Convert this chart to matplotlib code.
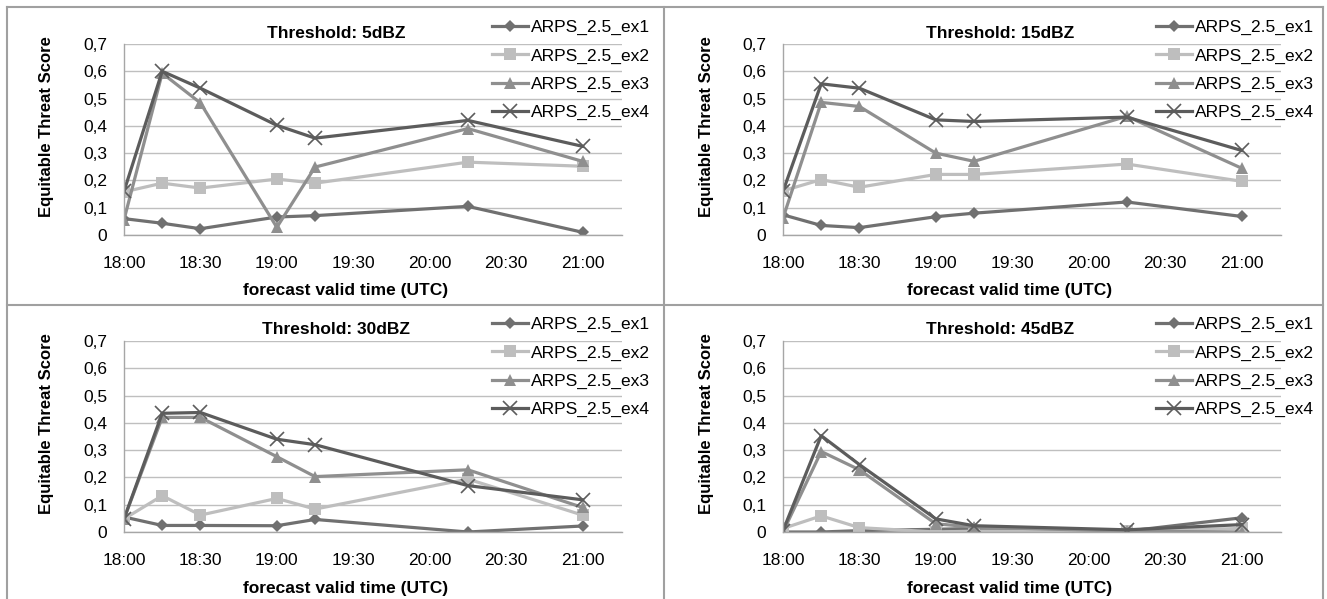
import matplotlib
matplotlib.use("Agg")
import matplotlib.pyplot as plt
from matplotlib.lines import Line2D

plt.rcParams['font.family'] = ['Liberation Sans', 'DejaVu Sans']

# forecast valid times (minutes after 18:00 UTC)
minutes = [0, 15, 30, 60, 75, 135, 180]
tick_minutes = [0, 30, 60, 90, 120, 150, 180]
tick_labels = ['18:00', '18:30', '19:00', '19:30', '20:00', '20:30', '21:00']

experiments = ['ARPS_2.5_ex1', 'ARPS_2.5_ex2', 'ARPS_2.5_ex3', 'ARPS_2.5_ex4']
thresholds = ['5dBZ', '15dBZ', '30dBZ', '45dBZ']

# equitable threat scores, one row per experiment
ets_5 = [
    [0.060, 0.043, 0.023, 0.066, 0.071, 0.105, 0.010],
    [0.158, 0.190, 0.172, 0.205, 0.190, 0.267, 0.252],
    [0.056, 0.593, 0.484, 0.028, 0.249, 0.390, 0.270],
    [0.160, 0.600, 0.538, 0.402, 0.355, 0.420, 0.325],
]
ets_15 = [
    [0.074, 0.035, 0.027, 0.067, 0.080, 0.121, 0.068],
    [0.162, 0.203, 0.175, 0.222, 0.222, 0.260, 0.197],
    [0.062, 0.486, 0.471, 0.300, 0.270, 0.435, 0.245],
    [0.160, 0.554, 0.538, 0.422, 0.416, 0.432, 0.310],
]
ets_30 = [
    [0.055, 0.024, 0.024, 0.023, 0.046, 0.000, 0.022],
    [0.048, 0.133, 0.062, 0.123, 0.084, 0.194, 0.062],
    [0.048, 0.420, 0.420, 0.276, 0.203, 0.228, 0.090],
    [0.048, 0.435, 0.438, 0.340, 0.320, 0.170, 0.118],
]
ets_45 = [
    [0.000, 0.000, 0.005, 0.010, 0.013, 0.003, 0.052],
    [0.013, 0.059, 0.016, 0.000, 0.003, 0.003, 0.013],
    [0.000, 0.295, 0.228, 0.030, 0.018, 0.003, 0.000],
    [0.005, 0.353, 0.247, 0.048, 0.023, 0.008, 0.027],
]
all_scores = [ets_5, ets_15, ets_30, ets_45]

colors = ['#707070', '#bebebe', '#8f8f8f', '#5c5c5c']
markers = ['D', 's', '^', 'x']
msizes = [6.5, 8.5, 8.5, 9.5]

W, H = 1327, 599
fig = plt.figure(figsize=(W / 100, H / 100), dpi=100)

# panel pixels from top-left: axes left, axes top (0.7), axes bottom (0), panel x offset, ylabel x
panels = [
    (124, 44, 235, 0, 47),
    (783, 44, 235, 664, 706),
    (124, 341, 532, 0, 47),
    (783, 341, 532, 664, 706),
]

for (left, top, bottom, x0, ylx), thr, scores in zip(panels, thresholds, all_scores):
    width = 498
    ax = fig.add_axes([left / W, (H - bottom) / H, width / W, (bottom - top) / H])
    for i, name in enumerate(experiments):
        ax.plot(minutes, scores[i], color=colors[i], lw=2.3, marker=markers[i],
                ms=msizes[i], mew=1.2 if markers[i] == 'x' else 0,
                mec=colors[i], label=name)
    ax.set_xlim(0, 195.5)
    ax.set_ylim(0, 0.7)
    ax.set_xticks(tick_minutes)
    ax.set_xticklabels(tick_labels)
    ax.set_yticks([0, 0.1, 0.2, 0.3, 0.4, 0.5, 0.6, 0.7])
    ax.set_yticklabels(['0', '0,1', '0,2', '0,3', '0,4', '0,5', '0,6', '0,7'])
    ax.tick_params(axis='both', length=0, labelsize=12.5)
    ax.tick_params(axis='x', pad=15)
    ax.tick_params(axis='y', pad=12)
    ax.grid(axis='y', color='#bfbfbf', lw=1)
    ax.set_axisbelow(True)
    for s in ['top', 'right']:
        ax.spines[s].set_visible(False)
    for s in ['left', 'bottom']:
        ax.spines[s].set_color('#a6a6a6')
        ax.spines[s].set_linewidth(1)

    fig.text((x0 + 336) / W, (H - top + 11) / H, 'Threshold: ' + thr,
             ha='center', va='center', fontsize=12.5, fontweight='bold')
    fig.text((x0 + 346) / W, (H - bottom - 56) / H, 'forecast valid time (UTC)',
             ha='center', va='center', fontsize=12.5, fontweight='bold')
    fig.text(ylx / W, (H - (top + bottom) / 2 + 13) / H, 'Equitable Threat Score',
             ha='center', va='center', rotation=90, fontsize=12, fontweight='bold')
    ax.legend(loc='upper left', bbox_to_anchor=((x0 + 492) / W, (H - top + 24) / H),
              bbox_transform=fig.transFigure, frameon=False, fontsize=12.5,
              handlelength=2.1, handletextpad=0.15, labelspacing=0.75, borderpad=0,
              borderaxespad=0)

# panel borders
bc = '#a0a0a0'
fig.add_artist(Line2D([7 / W, 7 / W], [0, (H - 7) / H], color=bc, lw=1.5))
fig.add_artist(Line2D([1323 / W, 1323 / W], [0, (H - 7) / H], color=bc, lw=1.5))
fig.add_artist(Line2D([664 / W, 664 / W], [0, (H - 7) / H], color=bc, lw=1.5))
fig.add_artist(Line2D([7 / W, 1323 / W], [(H - 7) / H, (H - 7) / H], color=bc, lw=1.5))
fig.add_artist(Line2D([7 / W, 1323 / W], [(H - 305) / H, (H - 305) / H], color=bc, lw=1.5))

fig.savefig('out.png', dpi=100)
